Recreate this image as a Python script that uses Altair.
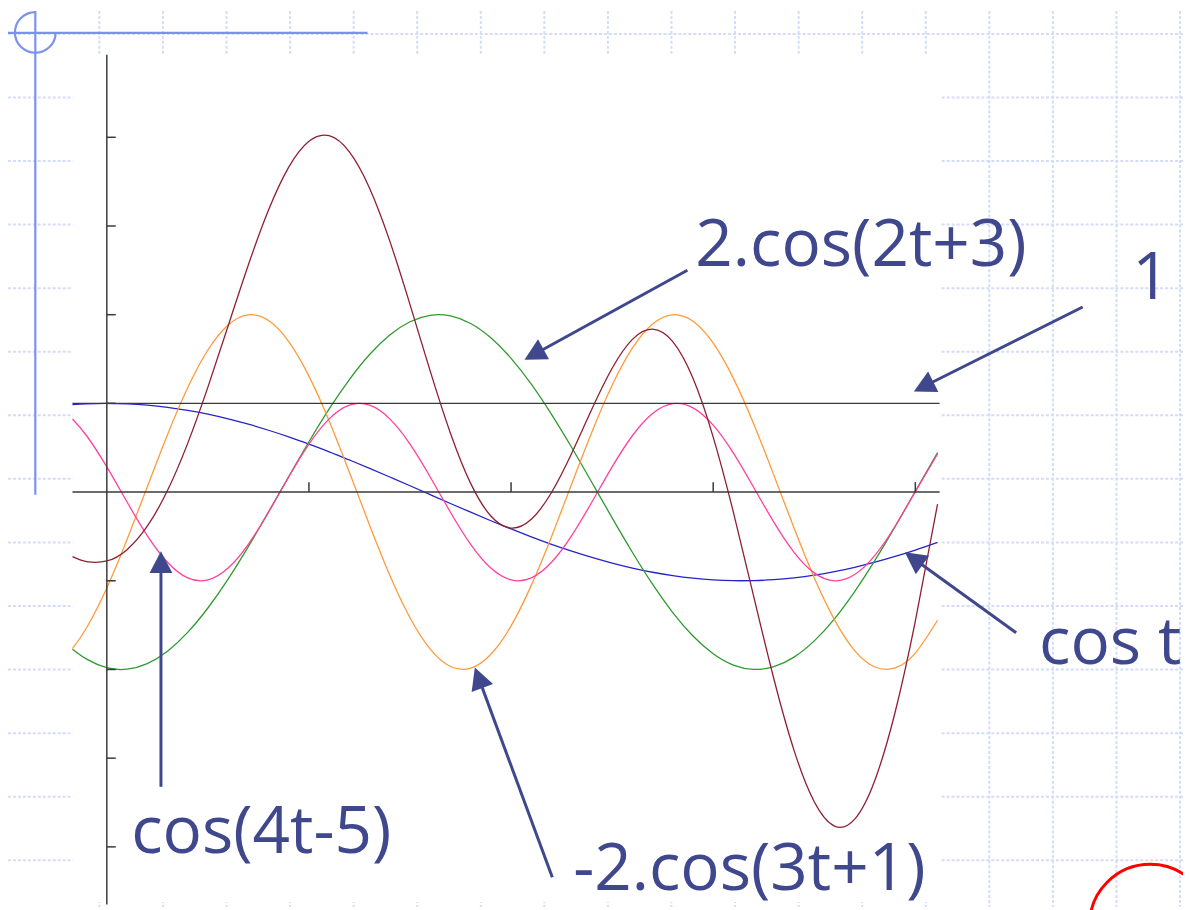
import math
import altair as alt
import pandas as pd

# ---------------------------------------------------------------- layout
W, H = 1183, 902          # drawing area (page margin is 8px)
OX, OY = 8, 8             # where the chart starts on the page
T0_X, T_SCALE = 107.5, 203.5   # pixel of t = 0, pixels per unit of t
V0_Y, V_SCALE = 492.3, 89.3    # pixel of v = 0, pixels per unit of v

# ---------------------------------------------------------------- data
t = [-0.17, -0.1, 0.0, 0.1, 0.2, 0.3, 0.4, 0.5, 0.6, 0.7, 0.8, 0.9,
     1.0, 1.1, 1.2, 1.3, 1.4, 1.5, 1.6, 1.7, 1.8, 1.9,
     2.0, 2.1, 2.2, 2.3, 2.4, 2.5, 2.6, 2.7, 2.8, 2.9,
     3.0, 3.1, 3.2, 3.3, 3.4, 3.5, 3.6, 3.7, 3.8, 3.9, 4.0, 4.11]

cos_t = [0.986, 0.995, 1.000, 0.995, 0.980, 0.955, 0.921, 0.878, 0.825, 0.765, 0.697, 0.622,
         0.540, 0.454, 0.362, 0.268, 0.170, 0.071, -0.029, -0.129, -0.227, -0.323,
         -0.416, -0.505, -0.589, -0.666, -0.737, -0.801, -0.857, -0.904, -0.942, -0.971,
         -0.990, -0.999, -0.998, -0.988, -0.967, -0.937, -0.897, -0.848, -0.791, -0.726,
         -0.654, -0.567]

cos_2t3 = [-1.773, -1.884, -1.980, -1.997, -1.934, -1.794, -1.582, -1.307, -0.981, -0.615, -0.224, 0.175,
           0.567, 0.937, 1.269, 1.551, 1.771, 1.920, 1.993, 1.986, 1.901, 1.739,
           1.508, 1.217, 0.877, 0.503, 0.108, -0.291, -0.678, -1.039, -1.358, -1.622,
           -1.822, -1.950, -1.999, -1.969, -1.861, -1.678, -1.429, -1.122, -0.771, -0.389,
           0.009, 0.445]

cos_3t1 = [-1.765, -1.530, -1.081, -0.535, 0.058, 0.647, 1.177, 1.602, 1.884, 1.998, 1.934, 1.696,
           1.307, 0.802, 0.224, -0.373, -0.937, -1.417, -1.771, -1.967, -1.986, -1.829,
           -1.508, -1.052, -0.503, 0.092, 0.678, 1.204, 1.622, 1.895, 1.999, 1.925,
           1.678, 1.282, 0.771, 0.191, -0.406, -0.967, -1.441, -1.787, -1.972, -1.982,
           -1.815, -1.445]

cos_4t5 = [0.824, 0.635, 0.284, -0.112, -0.490, -0.791, -0.967, -0.990, -0.857, -0.589, -0.227, 0.170,
           0.540, 0.825, 0.980, 0.980, 0.825, 0.540, 0.170, -0.227, -0.589, -0.857,
           -0.990, -0.967, -0.791, -0.490, -0.112, 0.284, 0.635, 0.886, 0.997, 0.950,
           0.754, 0.439, 0.054, -0.339, -0.679, -0.911, -1.000, -0.930, -0.714, -0.385,
           0.004, 0.430]

total = [-0.728, -0.784, -0.777, -0.649, -0.385, 0.017, 0.549, 1.183, 1.872, 2.560, 3.179, 3.663,
         3.955, 4.018, 3.836, 3.426, 2.829, 2.114, 1.363, 0.664, 0.098, -0.270,
         -0.406, -0.307, -0.005, 0.438, 0.937, 1.396, 1.722, 1.838, 1.696, 1.282,
         0.620, -0.228, -1.173, -2.105, -2.912, -3.492, -3.766, -3.687, -3.248, -2.482,
         -1.455, -0.136]

series_names = ["cos t", "2.cos(2t+3)", "-2.cos(3t+1)", "cos(4t-5)", "sum"]
series_values = [cos_t, cos_2t3, cos_3t1, cos_4t5, total]
series_colors = ["#2424C8", "#2F9A2F", "#FF9A3C", "#FF3F9E", "#8E1F30"]

# axes of the plot (data units)
h_line_v = [0.0, 1.0]
h_line_t = [-0.17, 4.12]
y_axis_v = [-4.65, 4.93]
y_ticks = [-4, -3, -2, -1, 1, 2, 3, 4]
x_ticks = [1, 2, 3, 4]
y_tick_len = 0.044
x_tick_len = 0.112

# slide decoration (page pixels)
grid_x = [100, 164, 228, 292, 356, 420, 484, 548, 612, 676, 740, 804, 868, 932,
          996, 1060, 1124, 1188]
grid_y = [31, 95, 159, 223, 287, 351, 415, 479, 543, 607, 671, 735, 799, 863]
panel = [73, 947, 52, 905]
deco_x0 = [0, 35.5]
deco_x1 = [370, 35.5]
deco_y0 = [30, 8]
deco_y1 = [30, 495]
deco_circle = [35.5, 29.5, 20.5]
red_circle = [1158, 928, 61]

labels = ["2.cos(2t+3)", "1", "cos t", "cos(4t-5)", "-2.cos(3t+1)"]
label_x = [700, 1140, 1046, 132, 577]
label_y = [265, 298, 665, 856, 893]

arrow_tail_x = [692, 1090, 1023, 162, 556]
arrow_tail_y = [269, 306, 634, 789, 880]
arrow_tip_x = [528, 920, 911, 162, 478]
arrow_tip_y = [359, 391, 553, 552, 669]

TEXT = "#3F478D"
GRID = "#D3DCFA"
DECO = "#7A92EE"
AXIS = "#3A3A3A"

# ---------------------------------------------------------------- scales
xs = alt.Scale(domain=[(OX - T0_X) / T_SCALE, (OX + W - T0_X) / T_SCALE], nice=False, zero=False)
ys = alt.Scale(domain=[(V0_Y - (OY + H)) / V_SCALE, (V0_Y - OY) / V_SCALE], nice=False, zero=False)
pxs = alt.Scale(domain=[OX, OX + W], nice=False, zero=False)
pys = alt.Scale(domain=[OY, OY + H], nice=False, zero=False, reverse=True)

# ---------------------------------------------------------------- tables
rows = []
for name, vals in zip(series_names, series_values):
    for ti, vi in zip(t, vals):
        rows.append({"series": name, "t": ti, "v": vi})
curves_df = pd.DataFrame(rows)

hl_df = pd.DataFrame({"v": h_line_v, "t0": [h_line_t[0]] * 2, "t1": [h_line_t[1]] * 2})
ya_df = pd.DataFrame({"t": [0.0], "v0": [y_axis_v[0]], "v1": [y_axis_v[1]]})
yt_df = pd.DataFrame({"v": y_ticks, "t0": [0.0] * len(y_ticks), "t1": [y_tick_len] * len(y_ticks)})
xt_df = pd.DataFrame({"t": x_ticks, "v0": [0.0] * len(x_ticks), "v1": [x_tick_len] * len(x_ticks)})

gv_df = pd.DataFrame({"px": grid_x, "py0": [OY] * len(grid_x), "py1": [OY + H] * len(grid_x)})
gh_df = pd.DataFrame({"py": grid_y, "px0": [OX] * len(grid_y), "px1": [OX + W] * len(grid_y)})
panel_df = pd.DataFrame({"px0": [panel[0]], "px1": [panel[1]], "py0": [panel[2]], "py1": [panel[3]]})
deco_df = pd.DataFrame({"px0": deco_x0, "px1": deco_x1, "py0": deco_y0, "py1": deco_y1})
circ_df = pd.DataFrame({"px": [deco_circle[0]], "py": [deco_circle[1]]})
red_df = pd.DataFrame({"px": [red_circle[0]], "py": [red_circle[1]]})
text_df = pd.DataFrame({"label": labels, "px": label_x, "py": label_y})

HEAD_R = 11.5
arows = []
for tx, ty, hx, hy in zip(arrow_tail_x, arrow_tail_y, arrow_tip_x, arrow_tip_y):
    dx, dy = hx - tx, hy - ty
    L = math.hypot(dx, dy)
    ux, uy = dx / L, dy / L
    arows.append({
        "px0": tx, "py0": ty,
        "px1": hx - ux * 14, "py1": hy - uy * 14,
        "hx": hx - ux * 0.95 * HEAD_R, "hy": hy - uy * 0.95 * HEAD_R,
        "ang": math.degrees(math.atan2(dx, -dy)),
    })
arrow_df = pd.DataFrame(arows)

# ---------------------------------------------------------------- layers
def PX(f):
    return alt.X(f, scale=pxs, axis=None)


def PY(f):
    return alt.Y(f, scale=pys, axis=None)


grid_v = alt.Chart(gv_df).mark_rule(color=GRID, strokeWidth=2, strokeDash=[3, 2]).encode(
    x=PX("px:Q"), y=PY("py0:Q"), y2="py1:Q")
grid_h = alt.Chart(gh_df).mark_rule(color=GRID, strokeWidth=2, strokeDash=[3, 2]).encode(
    x=PX("px0:Q"), x2="px1:Q", y=PY("py:Q"))
panel_l = alt.Chart(panel_df).mark_rect(color="white").encode(
    x=PX("px0:Q"), x2="px1:Q", y=PY("py0:Q"), y2="py1:Q")
deco_l = alt.Chart(deco_df).mark_rule(color=DECO, strokeWidth=2.2).encode(
    x=PX("px0:Q"), x2="px1:Q", y=PY("py0:Q"), y2="py1:Q")
circ_l = alt.Chart(circ_df).mark_arc(
    radius=deco_circle[2], radius2=deco_circle[2], theta=math.pi / 2, theta2=2 * math.pi,
    fill=DECO, fillOpacity=0, stroke=DECO, strokeWidth=2.2).encode(
    x=PX("px:Q"), y=PY("py:Q"))
red_l = alt.Chart(red_df).mark_arc(
    radius=red_circle[2], radius2=red_circle[2], theta=0, theta2=2 * math.pi,
    fill="#FF0000", fillOpacity=0, stroke="#FF0000", strokeWidth=3).encode(
    x=PX("px:Q"), y=PY("py:Q"))

curves = alt.Chart(curves_df).mark_line(strokeWidth=1.3, interpolate="natural").encode(
    x=alt.X("t:Q", scale=xs, axis=None),
    y=alt.Y("v:Q", scale=ys, axis=None),
    color=alt.Color("series:N", scale=alt.Scale(domain=series_names, range=series_colors), legend=None),
)

hl = alt.Chart(hl_df).mark_rule(color=AXIS, strokeWidth=1.5).encode(
    x=alt.X("t0:Q", scale=xs, axis=None), x2="t1:Q", y=alt.Y("v:Q", scale=ys, axis=None))
ya = alt.Chart(ya_df).mark_rule(color=AXIS, strokeWidth=1.5).encode(
    x=alt.X("t:Q", scale=xs, axis=None), y=alt.Y("v0:Q", scale=ys, axis=None), y2="v1:Q")
yt = alt.Chart(yt_df).mark_rule(color=AXIS, strokeWidth=1.5).encode(
    x=alt.X("t0:Q", scale=xs, axis=None), x2="t1:Q", y=alt.Y("v:Q", scale=ys, axis=None))
xt = alt.Chart(xt_df).mark_rule(color=AXIS, strokeWidth=1.5).encode(
    x=alt.X("t:Q", scale=xs, axis=None), y=alt.Y("v0:Q", scale=ys, axis=None), y2="v1:Q")

shafts = alt.Chart(arrow_df).mark_rule(color=TEXT, strokeWidth=3).encode(
    x=PX("px0:Q"), x2="px1:Q", y=PY("py0:Q"), y2="py1:Q")
heads = alt.Chart(arrow_df).mark_point(
    shape="M0,-0.95L1,0.95L-1,0.95Z", filled=True, color=TEXT, opacity=1,
    size=(2 * HEAD_R) ** 2, strokeWidth=0).encode(
    x=PX("hx:Q"), y=PY("hy:Q"), angle=alt.Angle("ang:Q", scale=None))
texts = alt.Chart(text_df).mark_text(
    font="Open Sans", fontSize=66, color=TEXT, align="left", baseline="alphabetic").encode(
    x=PX("px:Q"), y=PY("py:Q"), text="label:N")

chart = alt.layer(
    grid_v, grid_h, panel_l, deco_l, circ_l, red_l,
    curves, hl, ya, yt, xt,
    shafts, heads, texts,
).resolve_scale(x="independent", y="independent").properties(
    width=W, height=H, padding=0, autosize=alt.AutoSizeParams(type="none"),
    background="white",
).configure_view(stroke=None)

chart.save("out.html", embed_options={"renderer": "svg", "actions": False})
